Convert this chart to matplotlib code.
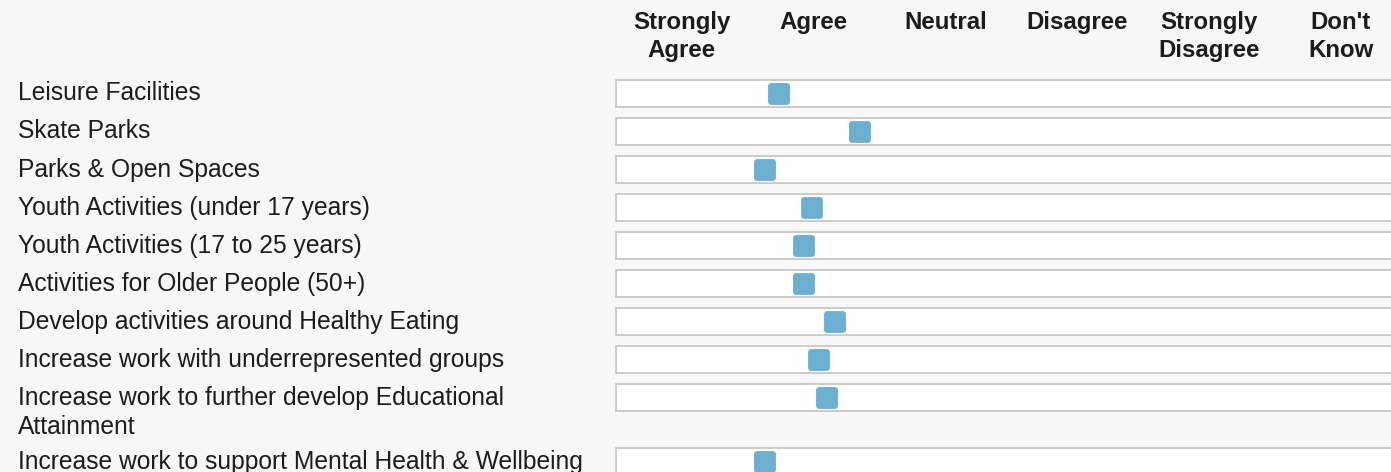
import matplotlib.pyplot as plt
from matplotlib.markers import MarkerStyle

# Survey items and mean response on the 1-6 scale (1 = Strongly Agree)
ITEMS = [
    "Leisure Facilities",
    "Skate Parks",
    "Parks & Open Spaces",
    "Youth Activities (under 17 years)",
    "Youth Activities (17 to 25 years)",
    "Activities for Older People (50+)",
    "Develop activities around Healthy Eating",
    "Increase work with underrepresented groups",
    "Increase work to further develop Educational\nAttainment",
    "Increase work to support Mental Health & Wellbeing",
]
SCORES = [1.74, 2.35, 1.63, 1.99, 1.93, 1.93, 2.16, 2.04, 2.10, 1.63]
SCALE = ["Strongly\nAgree", "Agree", "Neutral", "Disagree",
         "Strongly\nDisagree", "Don't\nKnow"]

BG = "#f7f7f7"
INK = "#1c1c1c"
TRACK_EDGE = "#c4c4c4"
DOT = "#6cafd1"

W, H = 1391, 472
PX = 131.9          # pixels per scale step
X1 = 681.5          # pixel x of "Strongly Agree"
ROW0, STEP, EXTRA = 93.5, 38, 26
TRACK_H = 27

plt.rcParams["font.family"] = ["Liberation Sans", "DejaVu Sans"]

fig = plt.figure(figsize=(W / 100, H / 100), dpi=100, facecolor=BG)
ax = fig.add_axes((0, 0, 1, 1))
ax.set_facecolor(BG)
ax.set_xlim(1 - X1 / PX, 1 + (W - X1) / PX)
ax.set_ylim(H, 0)
ax.axis("off")

# row centres: each extra label line pushes the following rows down
ys, y = [], ROW0
for label in ITEMS:
    ys.append(y)
    y += STEP + EXTRA * label.count("\n")

n = len(SCALE)
ax.barh(ys, n + 1, left=0.5, height=TRACK_H, color="white",
        edgecolor=TRACK_EDGE, linewidth=1.2, zorder=1)

ax.scatter(SCORES, ys, marker=MarkerStyle("s", joinstyle="round"), s=138,
           color=DOT, edgecolors=DOT, linewidths=4.2, zorder=3)

for i, head in enumerate(SCALE, start=1):
    ax.text(i, 11, head, ha="center", va="top", fontsize=17.3,
            fontweight="bold", color=INK, linespacing=1.28)

for label, yy in zip(ITEMS, ys):
    ax.text(1 - (X1 - 18) / PX, yy - 12, label, ha="left", va="top",
            fontsize=17.7, color=INK, linespacing=1.28)

fig.savefig("out.png", dpi=100, facecolor=BG)
